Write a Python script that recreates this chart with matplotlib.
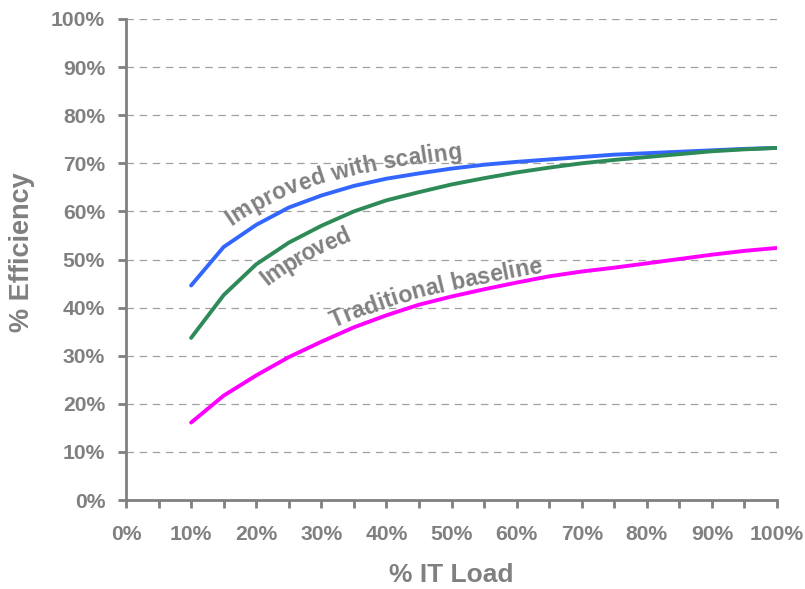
import matplotlib
matplotlib.use("Agg")
import numpy as np
import matplotlib.pyplot as plt
from matplotlib.ticker import MultipleLocator, FuncFormatter
from matplotlib.font_manager import FontProperties

load = [10, 15, 20, 25, 30, 35, 40, 45, 50, 55, 60, 65, 70, 75, 80, 85, 90, 95, 100]
improved_scaling = [44.6, 52.6, 57.2, 60.8, 63.3, 65.3, 66.8, 67.9, 68.9, 69.7, 70.3, 70.8,
                    71.3, 71.8, 72.1, 72.4, 72.7, 73.0, 73.2]
improved = [33.7, 42.6, 49.0, 53.5, 57.0, 60.0, 62.3, 64.0, 65.6, 66.9, 68.1, 69.1,
            70.0, 70.7, 71.3, 71.9, 72.5, 72.9, 73.2]
traditional = [16.1, 21.7, 25.9, 29.7, 32.9, 35.9, 38.4, 40.6, 42.3, 43.8, 45.2, 46.5,
               47.5, 48.3, 49.2, 50.1, 51.0, 51.8, 52.4]
series_labels = ["Improved with scaling", "Improved", "Traditional baseline"]

GRAY = "#808080"
FAMILY = ['Liberation Sans', 'DejaVu Sans']
plt.rcParams['font.family'] = FAMILY
plt.rcParams['font.weight'] = 'bold'

fig = plt.figure(figsize=(8.05, 5.89), dpi=100)
ax = fig.add_axes([126/805, 1-500/589, (777-126)/805, (500-19)/589])

ax.plot(load, improved_scaling, color="#3366FF", lw=2.8, solid_capstyle='round', zorder=3)
ax.plot(load, improved, color="#2E8B57", lw=2.8, solid_capstyle='round', zorder=3)
ax.plot(load, traditional, color="#FF00FF", lw=2.8, solid_capstyle='round', zorder=3)

ax.set_xlim(0, 100)
ax.set_ylim(0, 100)
ax.xaxis.set_major_locator(MultipleLocator(10))
ax.xaxis.set_minor_locator(MultipleLocator(5))
ax.yaxis.set_major_locator(MultipleLocator(10))
fmt = FuncFormatter(lambda v, p: f"{int(round(v))}%")
ax.xaxis.set_major_formatter(fmt)
ax.yaxis.set_major_formatter(fmt)

for yv in range(10, 101, 10):
    ax.axhline(yv, color="#A0A0A0", lw=0.9, dashes=(6, 4.5), zorder=1)

for s in ['top', 'right']:
    ax.spines[s].set_visible(False)
for s in ['left', 'bottom']:
    ax.spines[s].set_color(GRAY)
    ax.spines[s].set_linewidth(2)

ax.tick_params(axis='both', which='both', colors=GRAY, width=2, length=6, direction='out')
ax.tick_params(axis='y', labelsize=15.2, pad=9, labelcolor=GRAY)
ax.tick_params(axis='x', labelsize=15.2, pad=12, labelcolor=GRAY)
for lab in ax.get_xticklabels() + ax.get_yticklabels():
    lab.set_fontweight('bold')

ax.set_xlabel("% IT Load", fontsize=19, color=GRAY, fontweight='bold')
ax.set_ylabel("% Efficiency", fontsize=19.5, color=GRAY, fontweight='bold')
ax.xaxis.set_label_coords((451-126)/651, -(575-500)/481)
ax.yaxis.set_label_coords(-(126-22)/651, (500-252)/481)
ax.xaxis.label.set_va('center')
ax.yaxis.label.set_va('center')


def path_text(xs, ys, text, start_x, off0, off1, size):
    """Write text along the (offset) path of a plotted series, char by char."""
    renderer = fig.canvas.get_renderer()
    prop = FontProperties(family=FAMILY, weight='bold', size=size)
    pts = ax.transData.transform(np.column_stack([xs, ys]))
    seg = np.hypot(*np.diff(pts, axis=0).T)
    cum = np.concatenate([[0], np.cumsum(seg)])
    s = np.arange(0, cum[-1], 0.5)
    px = np.interp(s, cum, pts[:, 0])
    py = np.interp(s, cum, pts[:, 1])
    k = 36
    ia = np.clip(np.arange(len(s)) - k, 0, len(s) - 1)
    ib = np.clip(np.arange(len(s)) + k, 0, len(s) - 1)
    ang = np.arctan2(py[ib] - py[ia], px[ib] - px[ia])
    nx = -np.sin(ang)

    def w(t):
        return renderer.get_text_width_height_descent(t, prop, ismath=False)[0]
    base = w("nn")
    adv = [w("n" + c + "n") - base for c in text]
    total = sum(adv)
    i0 = int(np.argmax(px + nx * off0 >= start_x))
    s0 = s[i0]
    inv = ax.transData.inverted()
    acc = 0.0
    for c, a in zip(text, adv):
        sc = s0 + acc + a / 2
        acc += a
        if c == " ":
            continue
        frac = (acc - a / 2) / total
        off = off0 + (off1 - off0) * frac
        x = np.interp(sc, s, px)
        y = np.interp(sc, s, py)
        an = np.interp(sc, s, ang)
        x += -np.sin(an) * off
        y += np.cos(an) * off
        dx, dy = inv.transform((x, y))
        ax.text(dx, dy, c, fontproperties=prop, color=GRAY, rotation=np.degrees(an),
                ha='center', va='baseline', rotation_mode='anchor', zorder=4)


path_text(load, improved_scaling, series_labels[0], 231, 13, 9, 16.3)
path_text(load, improved, series_labels[1], 268, -24, -26, 16.3)
path_text(load, traditional, series_labels[2], 333, 8, 5, 16.6)

fig.savefig("out.png", dpi=100)
